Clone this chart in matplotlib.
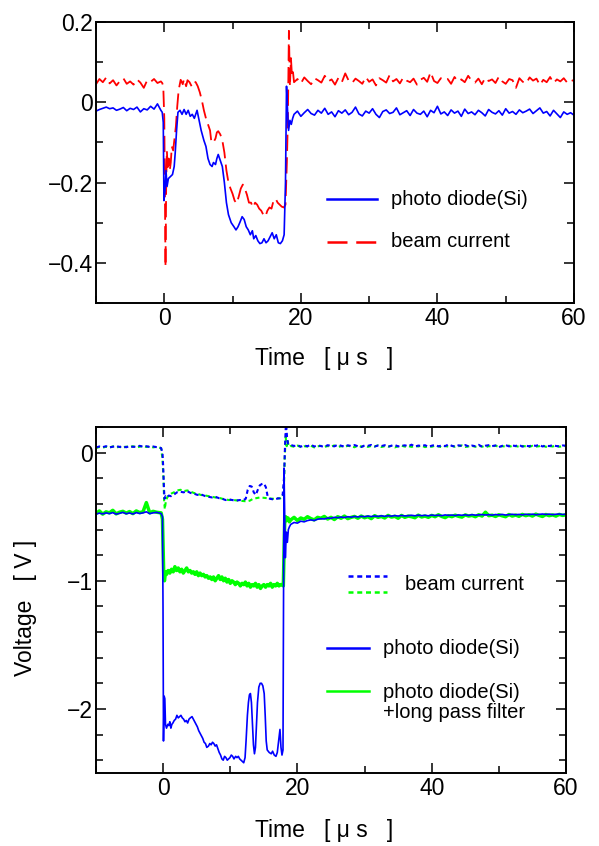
import numpy as np
import matplotlib
matplotlib.use("Agg")
import matplotlib.pyplot as plt
from matplotlib.ticker import MultipleLocator, FuncFormatter

plt.rcParams['font.family'] = ['Liberation Sans', 'DejaVu Sans']

# ---------------- data: upper panel ----------------
top_blue_pre = [-0.022, -0.018, -0.015, -0.012, -0.016, -0.014, -0.020, -0.017, -0.013, -0.021,
                -0.015, -0.018, -0.012, -0.024, -0.016, -0.019, -0.010, -0.017, -0.004, -0.020]
top_red_pre = [0.045, 0.058, 0.050, 0.062, 0.047, 0.055, 0.042, 0.053, 0.060, 0.046,
               0.052, 0.044, 0.057, 0.049, 0.036, 0.055, 0.051, 0.058, 0.048, 0.052]

top_blue_pulse = [(-0.3, -0.025), (-0.15, -0.05), (-0.05, -0.245), (0.1, -0.22), (0.25, -0.17),
                  (0.4, -0.21), (0.6, -0.19), (0.9, -0.185), (1.2, -0.18), (1.45, -0.16),
                  (1.6, -0.126), (1.8, -0.07), (2.0, -0.025), (2.3, -0.02), (2.6, -0.03),
                  (2.9, -0.018), (3.2, -0.03), (3.5, -0.02), (3.8, -0.035), (4.1, -0.03),
                  (4.4, -0.04), (4.8, -0.02), (5.1, -0.045), (5.4, -0.07), (5.8, -0.095),
                  (6.1, -0.11), (6.4, -0.14), (6.7, -0.155), (7.0, -0.16), (7.2, -0.15),
                  (7.5, -0.155), (7.7, -0.14), (7.9, -0.13), (8.2, -0.145), (8.5, -0.16),
                  (8.8, -0.2), (9.1, -0.25), (9.4, -0.28), (9.8, -0.30), (10.2, -0.31),
                  (10.5, -0.318), (10.8, -0.31), (11.1, -0.298), (11.4, -0.285), (11.7, -0.292),
                  (12.0, -0.31), (12.3, -0.318), (12.6, -0.33), (12.9, -0.32), (13.1, -0.34),
                  (13.4, -0.332), (13.7, -0.345), (14.0, -0.352), (14.3, -0.35), (14.6, -0.34),
                  (14.9, -0.35), (15.2, -0.345), (15.5, -0.335), (15.8, -0.325), (16.1, -0.34),
                  (16.4, -0.33), (16.7, -0.35), (17.0, -0.352), (17.3, -0.345), (17.55, -0.33),
                  (17.75, -0.2), (17.9, 0.04), (18.05, -0.02), (18.2, -0.07), (18.4, -0.045),
                  (18.6, -0.055), (18.8, -0.04)]

top_red_pulse = [(-0.3, 0.048), (-0.15, 0.04), (0.0, -0.04), (0.1, -0.25), (0.18, -0.41),
                 (0.28, -0.2), (0.38, -0.12), (0.5, -0.17), (0.65, -0.14), (0.8, -0.17),
                 (0.95, -0.15), (1.1, -0.11), (1.3, -0.12), (1.5, -0.09), (1.7, -0.06),
                 (1.9, -0.01), (2.1, 0.03), (2.4, 0.056), (2.7, 0.045), (2.9, 0.058),
                 (3.2, 0.04), (3.4, 0.055), (3.7, 0.05), (4.0, 0.04), (4.3, 0.052),
                 (4.6, 0.05), (4.9, 0.04), (5.2, 0.025), (5.5, 0.005), (5.8, -0.02),
                 (6.1, -0.04), (6.4, -0.055), (6.7, -0.07), (6.9, -0.1), (7.2, -0.1),
                 (7.5, -0.09), (7.7, -0.075), (7.9, -0.072), (8.2, -0.08), (8.5, -0.095),
                 (8.8, -0.125), (9.1, -0.17), (9.4, -0.2), (9.7, -0.215), (10.0, -0.228),
                 (10.3, -0.245), (10.6, -0.252), (10.9, -0.235), (11.2, -0.215), (11.5, -0.205),
                 (11.8, -0.215), (12.1, -0.23), (12.4, -0.25), (12.7, -0.25), (13.0, -0.262),
                 (13.3, -0.25), (13.6, -0.255), (13.9, -0.265), (14.2, -0.27), (14.5, -0.28),
                 (14.8, -0.285), (15.1, -0.27), (15.4, -0.262), (15.7, -0.265), (16.0, -0.245),
                 (16.3, -0.24), (16.6, -0.25), (16.9, -0.255), (17.2, -0.26), (17.5, -0.262),
                 (17.75, -0.255), (17.95, -0.15), (18.1, -0.04), (18.25, 0.178), (18.4, 0.04),
                 (18.55, 0.11), (18.7, 0.065), (18.85, 0.075)]

top_blue_post = [-0.030, -0.022, -0.035, -0.026, -0.018, -0.028, -0.032, -0.020, -0.027, -0.015,
                 -0.030, -0.024, -0.036, -0.021, -0.027, -0.019, -0.031, -0.025, -0.012, -0.029,
                 -0.034, -0.022, -0.027, -0.016, -0.030, -0.038, -0.023, -0.019, -0.028, -0.025,
                 -0.014, -0.031, -0.026, -0.021, -0.033, -0.018, -0.027, -0.030, -0.022, -0.036,
                 -0.020, -0.026, -0.010, -0.029, -0.024, -0.033, -0.019, -0.027, -0.022, -0.035,
                 -0.017, -0.028, -0.024, -0.031, -0.020, -0.026, -0.034, -0.018, -0.025, -0.029,
                 -0.021, -0.032, -0.016, -0.027, -0.023, -0.030, -0.019, -0.026, -0.022, -0.017,
                 -0.028, -0.021, -0.014, -0.027, -0.023, -0.034, -0.020, -0.029, -0.038, -0.024,
                 -0.030, -0.026, -0.032]
top_red_post = [0.050, 0.058, 0.047, 0.062, 0.053, 0.045, 0.060, 0.055, 0.049, 0.066,
                0.052, 0.057, 0.044, 0.061, 0.050, 0.072, 0.054, 0.048, 0.059, 0.053,
                0.046, 0.063, 0.051, 0.057, 0.042, 0.060, 0.055, 0.049, 0.068, 0.052,
                0.058, 0.047, 0.062, 0.054, 0.050, 0.059, 0.044, 0.056, 0.061, 0.051,
                0.075, 0.053, 0.048, 0.060, 0.055, 0.058, 0.046, 0.063, 0.052, 0.057,
                0.050, 0.066, 0.054, 0.049, 0.059, 0.045, 0.061, 0.053, 0.057, 0.048,
                0.064, 0.052, 0.046, 0.058, 0.055, 0.036, 0.060, 0.051, 0.047, 0.062,
                0.054, 0.059, 0.043, 0.056, 0.050, 0.063, 0.048, 0.057, 0.052, 0.060,
                0.049, 0.056, 0.053]

# ---------------- data: lower panel ----------------
bot_bd_pre = [0.040, 0.048, 0.043, 0.050, 0.041, 0.046, 0.052, 0.044, 0.049, 0.042,
              0.051, 0.045, 0.047, 0.053, 0.046, 0.050, 0.044, 0.048, 0.043, 0.040]
bot_gd_pre = [0.036, 0.044, 0.039, 0.046, 0.038, 0.049, 0.041, 0.045, 0.037, 0.047,
              0.043, 0.050, 0.040, 0.046, 0.052, 0.044, 0.048, 0.041, 0.045, 0.038]
bot_bs_pre = [-0.480, -0.472, -0.478, -0.470, -0.476, -0.468, -0.480, -0.474, -0.466, -0.477,
              -0.471, -0.479, -0.468, -0.475, -0.470, -0.462, -0.476, -0.470, -0.466, -0.472]
bot_gs_pre = [-0.475, -0.455, -0.480, -0.462, -0.470, -0.450, -0.478, -0.465, -0.458, -0.472,
              -0.460, -0.476, -0.455, -0.468, -0.462, -0.390, -0.470, -0.458, -0.465, -0.468]

bot_bd_pulse = [(-0.3, 0.035), (-0.1, 0.0), (0.0, -0.1), (0.1, -0.25), (0.2, -0.36),
                (0.35, -0.34), (0.55, -0.35), (0.85, -0.335), (1.15, -0.34), (1.55, -0.33),
                (2.05, -0.31), (2.55, -0.305), (3.05, -0.31), (3.55, -0.30), (4.1, -0.315),
                (4.6, -0.32), (5.1, -0.33), (5.6, -0.325), (6.3, -0.34), (6.8, -0.345),
                (7.3, -0.35), (7.8, -0.345), (8.3, -0.355), (8.8, -0.36), (9.3, -0.37),
                (9.8, -0.365), (10.3, -0.37), (10.8, -0.375), (11.4, -0.37), (11.9, -0.372),
                (12.3, -0.36), (12.6, -0.29), (12.9, -0.26), (13.2, -0.265), (13.5, -0.31),
                (13.8, -0.33), (14.1, -0.29), (14.4, -0.255), (14.7, -0.245), (15.0, -0.24),
                (15.3, -0.27), (15.6, -0.35), (15.9, -0.36), (16.4, -0.365), (16.9, -0.36),
                (17.4, -0.355), (17.8, -0.33), (18.0, -0.2), (18.15, 0.05), (18.3, 0.25),
                (18.45, 0.12), (18.6, 0.07), (18.8, 0.062)]

bot_gd_pulse = [(-0.3, 0.035), (-0.1, -0.05), (0.05, -0.2), (0.15, -0.38), (0.25, -0.44),
                (0.4, -0.38), (0.6, -0.35), (0.9, -0.33), (1.2, -0.32), (1.6, -0.31),
                (2.1, -0.295), (2.6, -0.29), (3.1, -0.30), (3.6, -0.295), (4.1, -0.305),
                (4.6, -0.315), (5.1, -0.32), (5.6, -0.33), (6.3, -0.335), (6.8, -0.34),
                (7.3, -0.345), (7.8, -0.35), (8.3, -0.352), (8.8, -0.36), (9.3, -0.365),
                (9.8, -0.37), (10.3, -0.368), (10.8, -0.372), (11.4, -0.375), (11.9, -0.378),
                (12.4, -0.38), (12.9, -0.375), (13.4, -0.36), (13.9, -0.355), (14.4, -0.35),
                (14.9, -0.352), (15.4, -0.355), (15.9, -0.358), (16.4, -0.36), (16.9, -0.355),
                (17.4, -0.358), (17.8, -0.35), (18.0, -0.25), (18.1, -0.05), (18.25, 0.12),
                (18.4, 0.05), (18.55, 0.09), (18.7, 0.05), (18.85, 0.045)]

bot_bs_pulse = [(-0.3, -0.475), (-0.1, -0.50), (-0.02, -1.2), (0.05, -2.25), (0.15, -1.90),
                (0.25, -1.92), (0.35, -2.12), (0.5, -2.15), (0.7, -2.12), (0.85, -2.13),
                (1.0, -2.10), (1.15, -2.15), (1.3, -2.12), (1.45, -2.11), (1.65, -2.09),
                (1.85, -2.08), (2.05, -2.05), (2.25, -2.07), (2.45, -2.06), (2.65, -2.05),
                (2.85, -2.07), (3.05, -2.08), (3.25, -2.10), (3.45, -2.09), (3.65, -2.11),
                (3.85, -2.08), (4.05, -2.07), (4.3, -2.06), (4.5, -2.08), (4.7, -2.10),
                (4.9, -2.12), (5.1, -2.14), (5.3, -2.17), (5.5, -2.19), (5.7, -2.21),
                (5.9, -2.23), (6.1, -2.26), (6.3, -2.27), (6.5, -2.30), (6.75, -2.29),
                (6.95, -2.27), (7.15, -2.28), (7.35, -2.26), (7.55, -2.27), (7.75, -2.29),
                (7.95, -2.28), (8.15, -2.31), (8.35, -2.34), (8.55, -2.36), (8.75, -2.39),
                (8.95, -2.40), (9.15, -2.37), (9.35, -2.38), (9.55, -2.40), (9.75, -2.39),
                (9.95, -2.38), (10.15, -2.36), (10.35, -2.37), (10.55, -2.39), (10.8, -2.37),
                (11.0, -2.38), (11.2, -2.37), (11.4, -2.39), (11.6, -2.40), (11.8, -2.41),
                (12.0, -2.42), (12.2, -2.38), (12.35, -2.25), (12.55, -2.05), (12.7, -1.95),
                (12.85, -1.89), (13.0, -1.88), (13.15, -1.95), (13.3, -2.12), (13.45, -2.28),
                (13.6, -2.35), (13.75, -2.30), (13.9, -2.12), (14.05, -1.95), (14.25, -1.83),
                (14.45, -1.80), (14.65, -1.80), (14.85, -1.82), (15.05, -1.88), (15.2, -2.05),
                (15.35, -2.25), (15.5, -2.32), (15.8, -2.34), (16.1, -2.35), (16.3, -2.33),
                (16.55, -2.36), (16.8, -2.37), (17.0, -2.34), (17.2, -2.25), (17.4, -2.16),
                (17.55, -2.30), (17.7, -2.36), (17.85, -2.32), (17.92, -1.2), (18.0, -0.12),
                (18.1, -0.45), (18.2, -0.82), (18.35, -0.62), (18.5, -0.70), (18.65, -0.60),
                (18.8, -0.58)]

bot_gs_pulse = [(-0.3, -0.47), (-0.1, -0.52), (0.0, -0.75), (0.1, -0.98), (0.2, -1.0),
                (0.35, -0.93), (0.5, -0.95), (0.75, -0.92), (1.0, -0.94), (1.25, -0.91),
                (1.5, -0.93), (1.75, -0.89), (2.0, -0.92), (2.25, -0.90), (2.5, -0.93),
                (2.75, -0.91), (3.0, -0.94), (3.25, -0.92), (3.5, -0.90), (3.75, -0.93),
                (4.0, -0.92), (4.25, -0.94), (4.5, -0.93), (4.75, -0.95), (5.0, -0.93),
                (5.25, -0.96), (5.5, -0.94), (5.75, -0.96), (6.0, -0.95), (6.25, -0.97),
                (6.5, -0.96), (6.75, -0.98), (7.0, -0.97), (7.25, -0.99), (7.5, -0.97),
                (7.75, -1.00), (8.0, -0.98), (8.25, -0.96), (8.5, -0.99), (8.75, -0.97),
                (9.0, -1.00), (9.25, -0.98), (9.5, -1.01), (9.75, -0.99), (10.0, -1.02),
                (10.25, -1.00), (10.5, -1.01), (10.75, -1.03), (11.0, -1.01), (11.25, -1.02),
                (11.5, -1.04), (11.75, -1.02), (12.0, -1.03), (12.25, -1.01), (12.5, -1.04),
                (12.75, -1.02), (13.0, -1.05), (13.25, -1.03), (13.5, -1.04), (13.75, -1.02),
                (14.0, -1.05), (14.25, -1.03), (14.5, -1.06), (14.75, -1.04), (15.0, -1.03),
                (15.25, -1.05), (15.5, -1.03), (15.75, -1.04), (16.0, -1.02), (16.25, -1.05),
                (16.5, -1.03), (16.75, -1.04), (17.0, -1.02), (17.25, -1.04), (17.5, -1.03),
                (17.75, -1.03), (17.9, -1.04), (18.0, -0.80), (18.1, -0.55), (18.25, -0.50),
                (18.4, -0.53), (18.6, -0.51), (18.8, -0.54)]

bot_bd_post = [0.060, 0.052, 0.058, 0.047, 0.055, 0.050, 0.062, 0.048, 0.056, 0.051,
               0.045, 0.058, 0.053, 0.049, 0.061, 0.054, 0.047, 0.057, 0.052, 0.059,
               0.050, 0.044, 0.056, 0.053, 0.060, 0.048, 0.055, 0.051, 0.058, 0.046,
               0.054, 0.059, 0.049, 0.053, 0.057, 0.050, 0.062, 0.047, 0.055, 0.052,
               0.058, 0.045, 0.054, 0.060, 0.049, 0.056, 0.051, 0.064, 0.053, 0.047,
               0.057, 0.052, 0.059, 0.048, 0.055, 0.050, 0.061, 0.046, 0.054, 0.058,
               0.051, 0.056, 0.043, 0.053, 0.059, 0.049, 0.055, 0.052, 0.060, 0.047,
               0.054, 0.050, 0.057, 0.053, 0.061, 0.048, 0.055, 0.051, 0.058, 0.052,
               0.049, 0.056, 0.054]
bot_gd_post = [0.052, 0.046, 0.055, 0.043, 0.050, 0.047, 0.054, 0.041, 0.049, 0.053,
               0.045, 0.051, 0.048, 0.056, 0.044, 0.050, 0.046, 0.053, 0.049, 0.042,
               0.055, 0.047, 0.051, 0.045, 0.052, 0.048, 0.057, 0.044, 0.050, 0.046,
               0.053, 0.041, 0.049, 0.054, 0.047, 0.051, 0.045, 0.052, 0.048, 0.055,
               0.043, 0.050, 0.046, 0.054, 0.049, 0.042, 0.051, 0.047, 0.053, 0.045,
               0.050, 0.056, 0.044, 0.049, 0.052, 0.046, 0.053, 0.048, 0.041, 0.051,
               0.047, 0.054, 0.045, 0.050, 0.048, 0.055, 0.043, 0.051, 0.046, 0.052,
               0.049, 0.044, 0.053, 0.047, 0.050, 0.056, 0.045, 0.051, 0.048, 0.054,
               0.046, 0.050, 0.052]
bot_bs_post = [-0.560, -0.545, -0.550, -0.535, -0.540, -0.530, -0.525, -0.530, -0.520, -0.515,
               -0.518, -0.510, -0.512, -0.505, -0.508, -0.503, -0.506, -0.500, -0.504, -0.498,
               -0.502, -0.497, -0.500, -0.495, -0.499, -0.494, -0.498, -0.493, -0.497, -0.492,
               -0.496, -0.491, -0.495, -0.490, -0.494, -0.492, -0.489, -0.493, -0.488, -0.492,
               -0.489, -0.493, -0.487, -0.491, -0.488, -0.492, -0.486, -0.490, -0.487, -0.491,
               -0.486, -0.489, -0.485, -0.490, -0.484, -0.488, -0.486, -0.483, -0.487, -0.484,
               -0.488, -0.483, -0.486, -0.482, -0.487, -0.484, -0.481, -0.485, -0.482, -0.486,
               -0.481, -0.484, -0.480, -0.485, -0.482, -0.479, -0.483, -0.480, -0.484, -0.481,
               -0.479, -0.483, -0.480]
bot_gs_post = [-0.525, -0.505, -0.530, -0.510, -0.520, -0.500, -0.515, -0.525, -0.505, -0.512,
               -0.498, -0.518, -0.505, -0.522, -0.500, -0.512, -0.495, -0.515, -0.505, -0.498,
               -0.512, -0.495, -0.508, -0.500, -0.515, -0.492, -0.505, -0.498, -0.510, -0.490,
               -0.503, -0.497, -0.512, -0.490, -0.505, -0.495, -0.500, -0.508, -0.488, -0.502,
               -0.495, -0.505, -0.490, -0.500, -0.485, -0.498, -0.507, -0.492, -0.500, -0.488,
               -0.497, -0.503, -0.486, -0.495, -0.490, -0.500, -0.485, -0.495, -0.465, -0.492,
               -0.488, -0.498, -0.485, -0.493, -0.500, -0.483, -0.495, -0.487, -0.497, -0.482,
               -0.492, -0.485, -0.495, -0.480, -0.490, -0.498, -0.483, -0.492, -0.486, -0.495,
               -0.482, -0.490, -0.485]

top_labels = ["photo diode(Si)", "beam current"]
bot_labels = ["beam current", "photo diode(Si)", "photo diode(Si)\n+long pass filter"]
xlabel_text = "Time   [ \u03bc s   ]"
ylabel_text = "Voltage   [ V ]"


def trace(pre, pulse, post):
    pre = np.asarray(pre, float)
    post = np.asarray(post, float)
    t_pre = -0.5 - 0.5 * np.arange(len(pre))[::-1]
    t_post = 19.0 + 0.5 * np.arange(len(post))
    pt = np.array(pulse, float)
    t = np.concatenate([t_pre, pt[:, 0], t_post])
    v = np.concatenate([pre, pt[:, 1], post])
    return t, v


def fmt(v, pos):
    if abs(v) < 1e-9:
        return "0"
    return ("%g" % round(v, 6)).replace("-", "\u2212")


BLUE = "#0000ff"
RED = "#ff0000"
GREEN = "#00ff00"

fig = plt.figure(figsize=(5.99, 8.46), dpi=100)
ax1 = fig.add_axes([96 / 599, 1 - 303 / 846, 478 / 599, 281 / 846])
ax2 = fig.add_axes([96 / 599, 1 - 773 / 846, 470 / 599, 346 / 846])

for ax in (ax1, ax2):
    for s in ax.spines.values():
        s.set_linewidth(1.4)
    ax.tick_params(which="both", direction="in", top=True, right=True, width=1.1,
                   labelsize=16.5)
    ax.tick_params(which="major", length=7)
    ax.tick_params(which="minor", length=4.8)
    ax.tick_params(axis="x", pad=3)
    ax.tick_params(axis="y", pad=2.5)
    ax.set_xlim(-10, 60)
    ax.xaxis.set_major_locator(MultipleLocator(20))
    ax.xaxis.set_minor_locator(MultipleLocator(10))
    ax.xaxis.set_major_formatter(FuncFormatter(fmt))
    ax.yaxis.set_major_formatter(FuncFormatter(fmt))

# upper panel
t, v = trace(top_red_pre, top_red_pulse, top_red_post)
ax1.plot(t, v, color=RED, lw=1.3, dashes=(9, 3.5))
t, v = trace(top_blue_pre, top_blue_pulse, top_blue_post)
ax1.plot(t, v, color=BLUE, lw=1.2)
ax1.set_ylim(-0.5, 0.2)
ax1.yaxis.set_major_locator(MultipleLocator(0.2))
ax1.yaxis.set_minor_locator(MultipleLocator(0.1))
ax1.set_xlabel(xlabel_text, fontsize=16.5, va="center")
ax1.xaxis.set_label_coords(0.477, -0.199)

# legend upper (drawn in axes coordinates)
ax1.plot([0.4826, 0.587], [0.369, 0.369], transform=ax1.transAxes, color=BLUE, lw=1.8,
         clip_on=False)
ax1.plot([0.4826, 0.587], [0.218, 0.218], transform=ax1.transAxes, color=RED, lw=1.8,
         dashes=(8, 3.5), clip_on=False)
ax1.text(0.617, 0.369, top_labels[0], transform=ax1.transAxes, fontsize=14.5, va="center")
ax1.text(0.617, 0.218, top_labels[1], transform=ax1.transAxes, fontsize=14.5, va="center")

# lower panel
t, v = trace(bot_gd_pre, bot_gd_pulse, bot_gd_post)
ax2.plot(t, v, color=GREEN, lw=1.5, dashes=(2, 1.5))
t, v = trace(bot_bd_pre, bot_bd_pulse, bot_bd_post)
ax2.plot(t, v, color=BLUE, lw=1.5, dashes=(2, 1.5))
t, v = trace(bot_gs_pre, bot_gs_pulse, bot_gs_post)
ax2.plot(t, v, color=GREEN, lw=2.5)
t, v = trace(bot_bs_pre, bot_bs_pulse, bot_bs_post)
ax2.plot(t, v, color=BLUE, lw=1.2)
ax2.set_ylim(-2.5, 0.2)
ax2.yaxis.set_major_locator(MultipleLocator(1))
ax2.yaxis.set_minor_locator(MultipleLocator(0.2))
ax2.set_xlabel(xlabel_text, fontsize=16.5, va="center")
ax2.xaxis.set_label_coords(0.485, -0.165)
ax2.set_ylabel(ylabel_text, fontsize=16.5, va="center")
ax2.yaxis.set_label_coords(-0.151, 0.478)

# legend lower
ax2.plot([0.536, 0.619], [0.569, 0.569], transform=ax2.transAxes, color=BLUE, lw=1.8,
         dashes=(2, 1.5), clip_on=False)
ax2.plot([0.536, 0.619], [0.524, 0.524], transform=ax2.transAxes, color=GREEN, lw=1.8,
         dashes=(2, 1.5), clip_on=False)
ax2.text(0.657, 0.546, bot_labels[0], transform=ax2.transAxes, fontsize=14.5, va="center")
ax2.plot([0.491, 0.581], [0.361, 0.361], transform=ax2.transAxes, color=BLUE, lw=1.8,
         clip_on=False)
ax2.text(0.611, 0.361, bot_labels[1], transform=ax2.transAxes, fontsize=14.5, va="center")
ax2.plot([0.491, 0.581], [0.238, 0.238], transform=ax2.transAxes, color=GREEN, lw=1.8,
         clip_on=False)
ax2.text(0.611, 0.204, bot_labels[2], transform=ax2.transAxes, fontsize=14.5, va="center",
         linespacing=1.05)

fig.savefig("out.png", dpi=100)
